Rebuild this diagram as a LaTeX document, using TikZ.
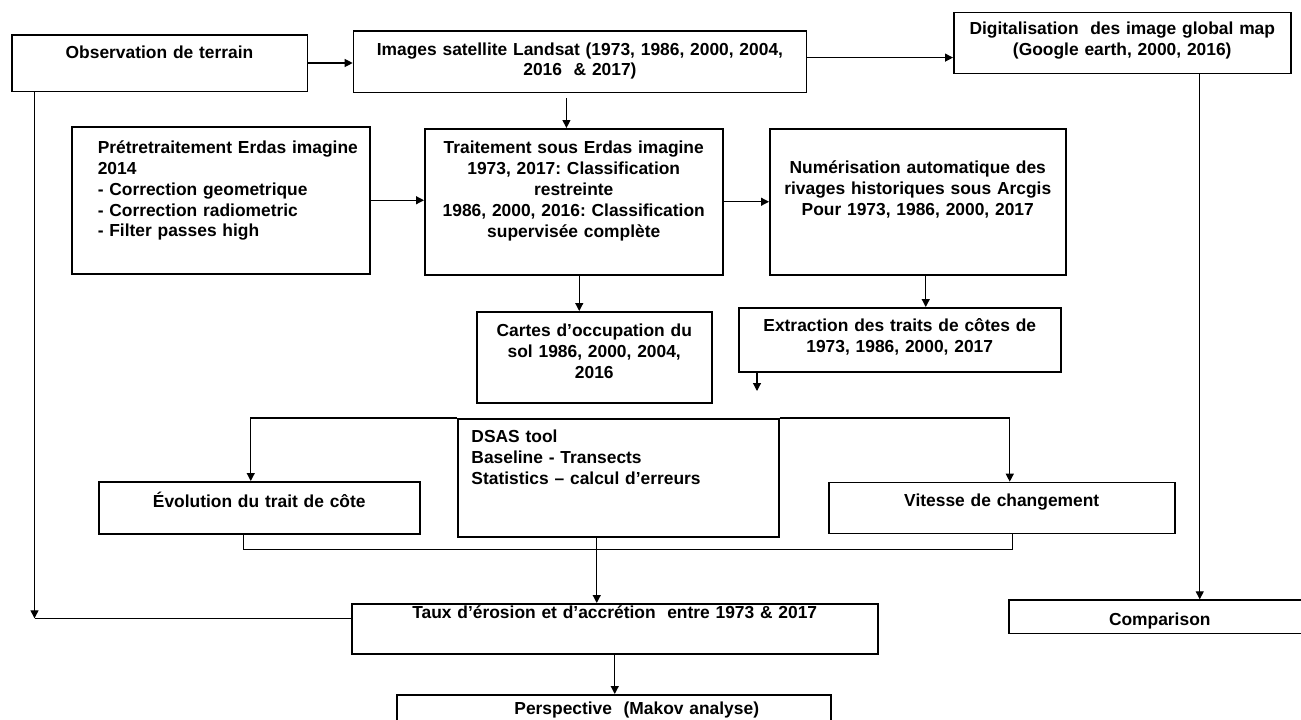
\documentclass[tikz,border=0pt]{standalone}
\usepackage{fontspec}
\setmainfont{Liberation Sans}
\usetikzlibrary{arrows.meta,positioning}
\frenchspacing

\begin{document}
\begin{tikzpicture}[x=1pt, y=-1pt,
    blk/.style={draw, line width=1.5pt, inner sep=0pt, anchor=north west,
      font=\bfseries\fontsize{17.4}{20.8}\selectfont, align=center},
    lft/.style={blk, align=left},
    arr/.style={line width=1.2pt, -{Triangle[length=8pt,width=8pt]}},
    lin/.style={line width=1.2pt}]
    \path[use as bounding box, fill=white] (0,0) rectangle (1301,720);
    % boxes are set by their top left corner
    % text height is the gap from the top to the first baseline
    \node[blk, text width=295.5pt, text height=23.3pt, text depth=33.2pt] (obs) at (11,34) {Observation de terrain};
    \node[blk, text width=453pt, text height=24.3pt, text depth=37.4pt] (img) at (352.7,30) {Images satellite Landsat (1973, 1986, 2000, 2004,\\ 2016 \ \& 2017)};
    \node[blk, text width=337pt, text height=22.3pt, text depth=38.7pt] (dig) at (953,11.7) {Digitalisation \ des image global map\\ (Google earth, 2000, 2016)};
    \node[lft, text width=298pt, text height=26.9pt, text depth=120.1pt] (pre) at (71,126) {\leftskip=26pt Prétretraitement Erdas imagine\\ 2014\\ - Correction geometrique\\ - Correction radiometric\\ - Filter passes high\par};
    \node[blk, text width=298pt, text height=25.2pt, text depth=120.8pt] (trt) at (424,128) {Traitement sous Erdas imagine\\ 1973, 2017: Classification\\ restreinte\\ 1986, 2000, 2016: Classification\\ supervisée complète};
    \node[blk, text width=296pt, text height=45.2pt, text depth=100.8pt] (num) at (769,128) {Numérisation automatique des\\ rivages historiques sous Arcgis\\ Pour 1973, 1986, 2000, 2017};
    \node[blk, text width=322pt, text height=24.2pt, text depth=39.8pt] (ext) at (738,307) {Extraction des traits de côtes de\\ 1973, 1986, 2000, 2017};
    \node[blk, text width=235pt, text height=25.2pt, text depth=65.8pt] (crt) at (476,311) {Cartes d’occupation du\\ sol 1986, 2000, 2004,\\ 2016};
    \node[lft, text width=321pt, text height=23.7pt, text depth=94.3pt] (dsas) at (457,418) {\leftskip=13.7pt DSAS tool\\ Baseline - Transects\\ Statistics – calcul d’erreurs\par};
    \node[blk, text width=321pt, text height=26pt, text depth=26pt] (evo) at (98,481) {Évolution du trait de côte};
    \node[blk, text width=346pt, text height=24.5pt, text depth=26.5pt] (vit) at (828,481.7) {Vitesse de changement};
    \node[blk, text width=526pt, text height=15pt, text depth=35pt] (taux) at (351,603) {Taux d’érosion et d’accrétion \ entre 1973 \& 2017};
    \node[blk, text width=302pt, text height=25pt, text depth=8.5pt] (cmp) at (1008,599.3) {Comparison};
    \node[blk, text width=434pt, text height=20pt, text depth=31pt] (per) at (396,694) {\hspace*{46pt}Perspective \ (Makov analyse)};

    \coordinate (corner) at (34.5,618.3);
    \coordinate (mrg) at (596,549.3);
    \coordinate (extend) at (757,391);

    \draw[arr] (obs.east) -- (obs.east -| img.west);
    \draw[arr] ([yshift=4pt]img.east) -- ([yshift=4pt]img.east -| dig.west);
    \draw[arr] ([xshift=-13.5pt,yshift=-5pt]img.south) -- ([xshift=-13.5pt]img.south |- trt.north);
    \draw[arr] (pre.east) -- (pre.east -| trt.west);
    \draw[arr] (trt.east) -- (trt.east -| num.west);
    \draw[arr] ([xshift=5.5pt]trt.south) -- ([xshift=5.5pt]trt.south |- crt.north);
    \draw[arr] ([xshift=8pt]num.south) -- ([xshift=8pt]num.south |- ext.north);
    \draw[arr] ([xshift=19pt]ext.south west) -- (extend);
    % DSAS splits to both sides, then both join again
    \draw[arr] (dsas.north west) -| ([xshift=-8.5pt]evo.north);
    \draw[arr] (dsas.north east) -| ([xshift=8pt]vit.north);
    \draw[lin] ([xshift=-15.5pt]evo.south) |- (mrg) -| ([xshift=11pt]vit.south);
    \draw[arr] ([xshift=-21.5pt]dsas.south) -- ([xshift=-21.5pt]dsas.south |- taux.north);
    \draw[arr] ([xshift=23.5pt]obs.south west) -- (corner);
    \draw[lin] (corner -| taux.west) -- (corner);
    \draw[arr] (taux.south) -- (taux.south |- per.north);
    \draw[arr] ([xshift=77.5pt]dig.south) -- ([xshift=77.5pt]dig.south |- cmp.north);
\end{tikzpicture}
\end{document}
